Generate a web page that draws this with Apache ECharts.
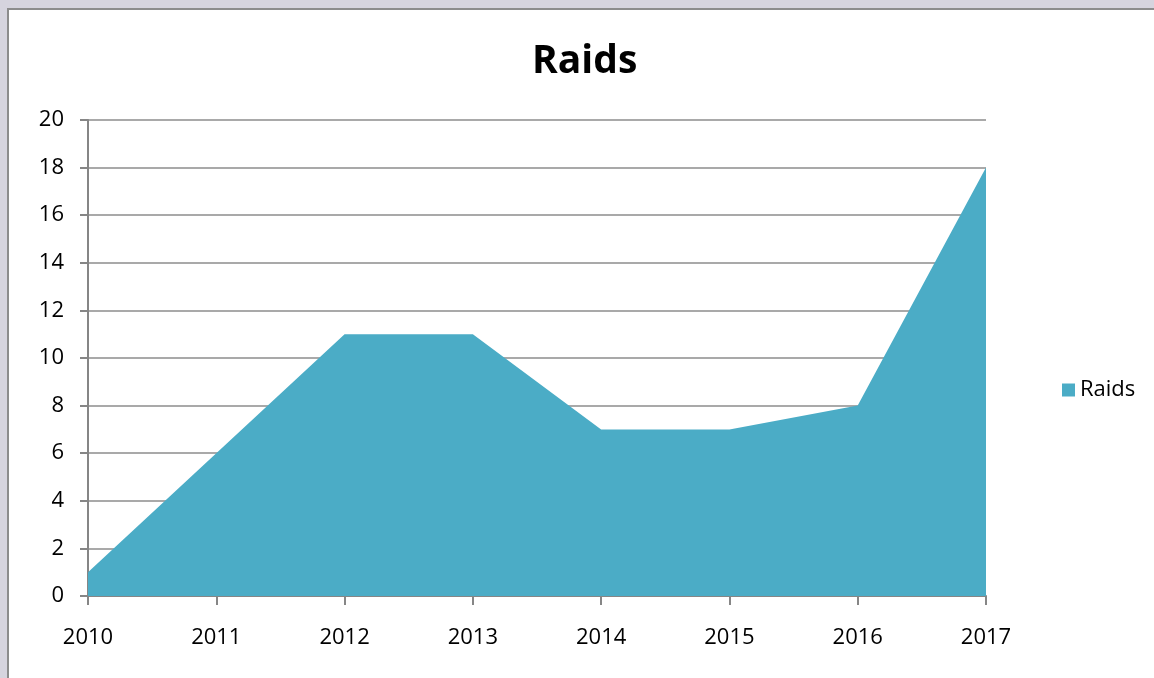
<!DOCTYPE html>
<html><head><meta charset="utf-8">
<script src="https://cdn.jsdelivr.net/npm/echarts@6/dist/echarts.min.js"></script>
<style>html,body{margin:0;padding:0;background:#d6d4de;}#c{width:1154px;height:678px;}</style>
</head><body><div id="c"></div>
<script>
const categories = ['2010','2011','2012','2013','2014','2015','2016','2017'];
const raids = [1, 6, 11, 11, 7, 7, 8, 18];
const seriesName = 'Raids';
const chart = echarts.init(document.getElementById('c'));
const font = '"Open Sans", "Noto Sans", sans-serif';
chart.setOption({
  backgroundColor: '#d6d4de',
  animation: false,
  graphic: [{type:'rect', shape:{x:8,y:9,width:1160,height:680}, style:{fill:'#ffffff', stroke:'#8c8c8c', lineWidth:2}, z:-10}],
  title: {text: 'Raids', left: 527, top: 37, textStyle:{fontFamily: font, fontWeight:'bold', fontSize:39, color:'#000'}},
  legend: {orient:'vertical', left: 1057, top: 374, itemWidth:13, itemHeight:13, itemGap:8, icon:'rect',
    textStyle:{fontFamily: font, fontSize:22, color:'#000'}, data:[seriesName]},
  grid: {left: 88, right: 168, top: 120, bottom: 82},
  xAxis: {type:'category', data: categories, boundaryGap:false,
    axisLine:{lineStyle:{color:'#868686', width:2}},
    axisTick:{show:true, length:9, lineStyle:{color:'#868686', width:2}},
    axisLabel:{fontFamily: font, fontSize:22, color:'#000', margin:31}},
  yAxis: {type:'value', min:0, max:20, interval:2,
    axisLine:{show:true, lineStyle:{color:'#868686', width:2}},
    axisTick:{show:true, length:8, lineStyle:{color:'#868686', width:2}},
    splitLine:{lineStyle:{color:'#8c8c8c', width:1.5}},
    axisLabel:{fontFamily: font, fontSize:22, color:'#000', margin:24}},
  series: [{name: seriesName, type:'line', data: raids, symbol:'none', lineStyle:{width:0},
    itemStyle:{color:'#4BACC6'}, areaStyle:{color:'#4BACC6', opacity:1}}]
});
</script></body></html>
